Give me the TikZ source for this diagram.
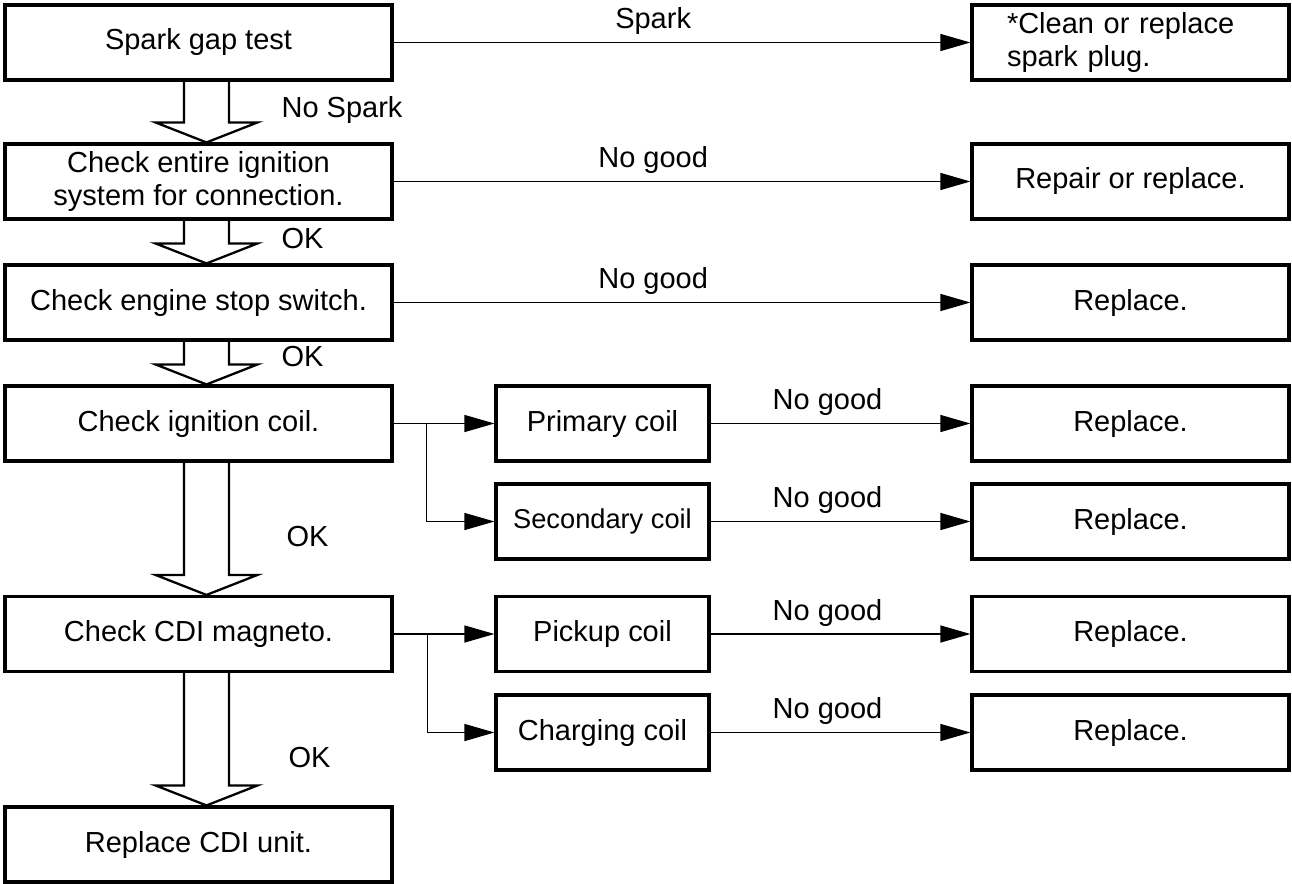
\documentclass[tikz,border=0pt]{standalone}
\usepackage{fontspec}
\setmainfont{Liberation Sans}
\usetikzlibrary{arrows.meta, calc}
\newcommand{\chartfont}{\fontsize{16.5}{18.5}\selectfont}

\begin{document}
\begin{tikzpicture}[x=0.02cm, y=-0.02cm,
  box/.style={draw, line width=1.8pt, minimum height=1.5cm, inner sep=2pt, align=center, font=\chartfont},
  lbox/.style={box, minimum width=7.74cm},
  mbox/.style={box, minimum width=4.26cm},
  rbox/.style={box, minimum width=6.34cm},
  conn/.style={line width=0.7pt, -{Triangle[length=6mm, width=3.4mm]}},
  hollow/.style={line width=1.3pt, line join=miter},
  lbl/.style={font=\chartfont, inner sep=3pt}]
\useasboundingbox (0,0) rectangle (1292,883);
% main column
\node[lbox] (spark) at (198.5,42.5) {Spark gap test};
\node[lbox] (chkconn) at (198.5,181.5) {Check entire ignition\\system for connection.};
\node[lbox] (chkstop) at (198.5,302.5) {Check engine stop switch.};
\node[lbox] (chkcoil) at (198.5,423.5) {Check ignition coil.};
\node[lbox] (chkcdi) at (198.5,634) {Check CDI magneto.};
\node[lbox] (cdiunit) at (198.5,844.5) {Replace CDI unit.};
% coil checks
\node[mbox] (primary) at (602.5,423.5) {Primary coil};
\node[mbox, font=\fontsize{15.5}{18}\selectfont] (secondary) at (602.5,521.5) {Secondary coil};
\node[mbox] (pickup) at (602.5,634) {Pickup coil};
\node[mbox] (charging) at (602.5,732.5) {Charging coil};
% remedies
\node[rbox, align=left, text width=4.94cm, inner xsep=0.7cm] (plug) at (1130.5,42.5) {*Clean or replace\\spark plug.};
\node[rbox] (repair) at (1130.5,181.5) {Repair or replace.};
\node[rbox] (rep3) at (1130.5,302.5) {Replace.};
\node[rbox] (rep4) at (1130.5,423.5) {Replace.};
\node[rbox] (rep5) at (1130.5,521.5) {Replace.};
\node[rbox] (rep6) at (1130.5,634) {Replace.};
\node[rbox] (rep7) at (1130.5,732.5) {Replace.};
% hollow arrows down the main column
\foreach \a/\b in {spark/chkconn, chkconn/chkstop, chkstop/chkcoil, chkcoil/chkcdi, chkcdi/cdiunit} {
  \draw[hollow] let \p1=(\a.south), \p2=(\b.north) in
    ({\x1-0.29cm},\y1) -- ({\x1-0.29cm},{\y2+0.4cm}) -- ({\x1-0.86cm},{\y2+0.4cm})
    -- ({\x1+0.16cm},\y2) -- ({\x1+1.18cm},{\y2+0.4cm}) -- ({\x1+0.61cm},{\y2+0.4cm})
    -- ({\x1+0.61cm},\y1);
}
\node[lbl, anchor=west] (nospark) at (276,110) {No Spark};
\node[lbl, anchor=west] (ok1) at (276,239) {OK};
\node[lbl, anchor=west] (ok2) at (276,357) {OK};
\node[lbl, anchor=west] (ok3) at (281,537) {OK};
\node[lbl, anchor=west] (ok4) at (283,758) {OK};
% arrows to the right
\draw[conn] (spark) -- node[lbl, above=1pt, pos=0.45] (lspark) {Spark} (plug);
\foreach \a/\b in {chkconn/repair, chkstop/rep3, primary/rep4, secondary/rep5, pickup/rep6, charging/rep7}
  \draw[conn] (\a) -- node[lbl, above=1pt, pos=0.45] (ng\b) {No good} (\b);
% branches
\coordinate (brA) at ([xshift=0.66cm]chkcoil.east);
\coordinate (brB) at ([xshift=0.68cm]chkcdi.east);
\draw[conn] (chkcoil) -- (primary);
\draw[conn] (brA) |- (secondary);
\draw[conn] (chkcdi) -- (pickup);
\draw[conn] (brB) |- (charging);
\end{tikzpicture}
\end{document}
